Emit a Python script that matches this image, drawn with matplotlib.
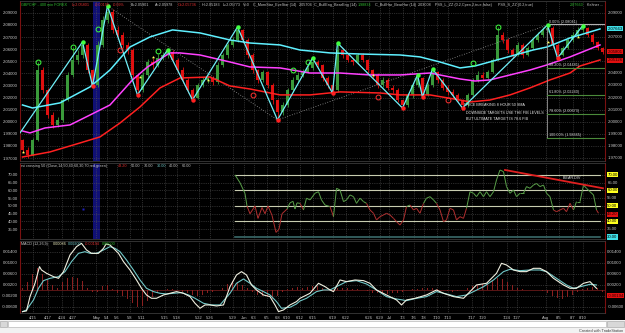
import matplotlib
matplotlib.use('Agg')
import matplotlib.pyplot as plt
from matplotlib.collections import LineCollection
from matplotlib.patches import Rectangle
import numpy as np

plt.rcParams['font.family'] = ['Liberation Sans', 'DejaVu Sans']

# ---- price bars (400 min GBPCHF) ----
closes = [1.9768, 1.9726, 1.9850, 2.0428, 2.0263, 2.0057, 1.9974, 2.0015, 2.0180, 2.0387,
          2.0511, 2.0552, 2.0635, 2.0428, 2.0304, 2.0635, 2.0841, 2.0907, 2.0759, 2.0717,
          2.0635, 2.0593, 2.0387, 2.0263, 2.0387, 2.0494, 2.0470, 2.0527, 2.0552, 2.0577,
          2.0511, 2.0428, 2.0346, 2.0263, 2.0197, 2.0304, 2.0346, 2.0362, 2.0329, 2.0470,
          2.0552, 2.0635, 2.0676, 2.0759, 2.0676, 2.0552, 2.0428, 2.0346, 2.0412, 2.0304,
          2.0180, 2.0081, 2.0139, 2.0263, 2.0346, 2.0387, 2.0412, 2.0445, 2.0494, 2.0470,
          2.0362, 2.0304, 2.0263, 2.0593, 2.0552, 2.0511, 2.0494, 2.0552, 2.0511, 2.0428,
          2.0387, 2.0304, 2.0346, 2.0280, 2.0263, 2.0180, 2.0139, 2.0222, 2.0304, 2.0362,
          2.0222, 2.0304, 2.0412, 2.0346, 2.0280, 2.0247, 2.0222, 2.0180, 2.0139, 2.0222,
          2.0346, 2.0387, 2.0362, 2.0412, 2.0511, 2.0717, 2.0676, 2.0593, 2.0552, 2.0635,
          2.0552, 2.0610, 2.0676, 2.0717, 2.0759, 2.0775, 2.0635, 2.0552, 2.0610, 2.0676,
          2.0717, 2.0759, 2.0775, 2.0717, 2.0660, 2.0610, 2.0577]
highs = [1.9860, 1.9790, 1.9870, 2.0494, 2.0450, 2.0280, 2.0080, 2.0040, 2.0200, 2.0410,
         2.0618, 2.0590, 2.0660, 2.0650, 2.0440, 2.0670, 2.0870, 2.0957, 2.0930, 2.0790,
         2.0740, 2.0660, 2.0610, 2.0400, 2.0410, 2.0520, 2.0530, 2.0560, 2.0580, 2.0593,
         2.0590, 2.0530, 2.0450, 2.0360, 2.0280, 2.0320, 2.0370, 2.0390, 2.0380, 2.0490,
         2.0570, 2.0650, 2.0700, 2.0783, 2.0770, 2.0690, 2.0570, 2.0440, 2.0430, 2.0420,
         2.0320, 2.0190, 2.0160, 2.0280, 2.0370, 2.0410, 2.0440, 2.0470, 2.0530, 2.0510,
         2.0480, 2.0380, 2.0320, 2.0651, 2.0610, 2.0570, 2.0530, 2.0570, 2.0570, 2.0520,
         2.0440, 2.0400, 2.0370, 2.0360, 2.0300, 2.0280, 2.0190, 2.0240, 2.0320, 2.0387,
         2.0370, 2.0320, 2.0436, 2.0420, 2.0360, 2.0300, 2.0270, 2.0240, 2.0190, 2.0240,
         2.0360, 2.0420, 2.0410, 2.0430, 2.0530, 2.0783, 2.0740, 2.0690, 2.0610, 2.0660,
         2.0650, 2.0630, 2.0700, 2.0740, 2.0780, 2.0800, 2.0790, 2.0650, 2.0630, 2.0700,
         2.0740, 2.0780, 2.0792, 2.0785, 2.0730, 2.0670, 2.0620]
lows = [1.9740, 1.9700, 1.9715, 1.9840, 2.0240, 2.0030, 1.9950, 1.9955, 2.0000, 2.0170,
        2.0370, 2.0480, 2.0530, 2.0400, 2.0296, 2.0290, 2.0620, 2.0820, 2.0730, 2.0690,
        2.0610, 2.0560, 2.0350, 2.0222, 2.0250, 2.0370, 2.0440, 2.0450, 2.0510, 2.0530,
        2.0490, 2.0400, 2.0320, 2.0240, 2.0180, 2.0185, 2.0290, 2.0320, 2.0300, 2.0310,
        2.0450, 2.0530, 2.0620, 2.0660, 2.0650, 2.0530, 2.0400, 2.0320, 2.0330, 2.0280,
        2.0150, 2.0015, 2.0060, 2.0120, 2.0250, 2.0330, 2.0370, 2.0400, 2.0430, 2.0450,
        2.0340, 2.0280, 2.0238, 2.0250, 2.0530, 2.0490, 2.0470, 2.0480, 2.0490, 2.0400,
        2.0360, 2.0280, 2.0290, 2.0260, 2.0240, 2.0160, 2.0114, 2.0120, 2.0200, 2.0290,
        2.0205, 2.0210, 2.0290, 2.0320, 2.0260, 2.0220, 2.0200, 2.0160, 2.0114, 2.0120,
        2.0210, 2.0330, 2.0340, 2.0350, 2.0400, 2.0500, 2.0650, 2.0570, 2.0530, 2.0540,
        2.0530, 2.0540, 2.0600, 2.0660, 2.0700, 2.0740, 2.0610, 2.0527, 2.0540, 2.0600,
        2.0660, 2.0700, 2.0740, 2.0700, 2.0640, 2.0590, 2.0560]
first_open = 1.9850

# keltner channel (upper / middle / lower)
kup_x = [0, 2, 7.5, 13.5, 17.5, 21.5, 25.5, 30, 35.5, 41.5, 45.5, 51.5, 55.5, 61.5, 67.5,
         75.5, 79.5, 83.5, 87.5, 90.5, 94.9, 102.1, 104.9, 109.5, 115.5]
kup_y = [2.0139, 2.0114, 2.0156, 2.0288, 2.0428, 2.0618, 2.0701, 2.0759, 2.0734, 2.0676,
         2.0651, 2.0635, 2.0593, 2.0569, 2.0560, 2.0552, 2.0536, 2.0494, 2.0445, 2.0461,
         2.0511, 2.0593, 2.0618, 2.0693, 2.0767]
kmid_x = [0, 1.5, 4.5, 9.5, 13.5, 17.5, 22, 25, 29.5, 31.5, 35.5, 41.5, 45.5, 51.5, 57.5,
          63.5, 69.5, 75.5, 81.5, 87.5, 90.5, 93.5, 97.5, 101.5, 104.9, 109.5, 115.5]
kmid_y = [1.9924, 1.9908, 1.9949, 1.9974, 2.0056, 2.0139, 2.0346, 2.0453, 2.0569, 2.0569,
          2.0552, 2.0494, 2.0453, 2.0445, 2.0403, 2.0403, 2.0387, 2.0387, 2.0403, 2.0354,
          2.0337, 2.0346, 2.0387, 2.0428, 2.0470, 2.0536, 2.0635]
klow_x = [0, 5.5, 11.5, 15.5, 19.5, 23.5, 27.5, 31.5, 37.5, 41.5, 45.5, 51.5, 57.5, 63.5,
          71.5, 75.5, 81.5, 87.5, 89.5, 93.5, 97.5, 101.5, 105.5, 109.5, 111.5, 115.5]
klow_y = [1.9709, 1.9751, 1.9825, 1.9875, 1.9990, 2.0123, 2.0280, 2.0362, 2.0370, 2.0296,
          2.0271, 2.0222, 2.0222, 2.0247, 2.0238, 2.0222, 2.0222, 2.0180, 2.0164, 2.0180,
          2.0222, 2.0280, 2.0346, 2.0403, 2.0461, 2.0511]

# zigzag pivots and signal markers
zz_x = [-0.5, 12, 14, 17, 23, 29, 34, 43, 51, 58, 62, 63, 76, 79, 80, 82, 88, 105, 107, 112]
zz_y = [1.9908, 2.0660, 2.0296, 2.0957, 2.0222, 2.0593, 2.0180, 2.0783, 2.0015, 2.0527,
        2.0238, 2.0651, 2.0114, 2.0387, 2.0205, 2.0436, 2.0114, 2.0800, 2.0527, 2.0792]
piv_hi_x = [12, 17, 29, 43, 58, 63, 79, 82, 105, 112]
piv_hi_y = [2.0660, 2.0957, 2.0593, 2.0783, 2.0527, 2.0651, 2.0387, 2.0436, 2.0800, 2.0792]
piv_lo_x = [14, 23, 34, 51, 62, 76, 80, 88, 107]
piv_lo_y = [2.0296, 2.0222, 2.0180, 2.0015, 2.0238, 2.0114, 2.0205, 2.0114, 2.0527]
ring_g_x = [3, 10, 15, 27, 54, 57, 90, 95]
ring_g_y = [2.0494, 2.0618, 2.0767, 2.0585, 2.0428, 2.0494, 2.0486, 2.0783]
ring_r_x = [19.5, 46, 71, 85]
ring_r_y = [2.0593, 2.0222, 2.0205, 2.0180]
star_x = [0, 23.5, 26, 37, 70, 105, 111]
star_y = [1.9751, 2.0370, 2.0536, 2.0346, 2.0387, 2.0660, 2.0700]
trend_x = [17, 51, 105]
trend_y = [2.0957, 2.0015, 2.0800]

fib_names = ['0.00% (2.08041)', '38.20% (2.04481)', '61.80% (2.02240)',
             '78.60% (2.00673)', '100.00% (1.98665)']
fib_levels = [2.08041, 2.04481, 2.02240, 2.00673, 1.98665]
fib_start = 104.9

# ---- rsi ----
rsi_x = [42.5, 43.5, 44.5, 44.9, 45.5, 46.5, 47.1, 47.9, 48.5, 49.1, 49.9, 50.7, 51.3, 51.9,
         52.9, 53.5, 54.1, 54.5, 54.9, 55.5, 56.2, 56.8, 57.5, 58.5, 59.2, 59.8, 60.5, 61.5,
         62.2, 62.8, 63.5, 64.2, 64.8, 65.5, 66.2, 66.8, 67.5, 68.2, 68.8, 69.5, 70.2, 70.8,
         71.5, 72.2, 72.8, 73.5, 74.2, 74.8, 75.5, 76.2, 76.8, 77.5, 78.2, 78.8, 79.5, 80.2,
         80.8, 81.5, 82.2, 82.8, 83.5, 84.2, 84.8, 85.5, 86.2, 86.8, 87.5, 88.2, 88.8, 89.5,
         90.2, 90.8, 91.5, 92.2, 92.8, 93.5, 94.2, 94.8, 95.5, 96.2, 96.8, 97.5, 98.2, 98.8,
         99.5, 100.2, 100.8, 101.5, 102.2, 102.8, 103.5, 104.2, 104.8, 105.5, 106.2, 106.8,
         107.5, 108.2, 108.8, 109.5, 110.2, 110.8, 111.5, 112.2, 112.8, 113.5, 114.2, 114.8, 115.2]
rsi_v = [70.0, 65.0, 58.0, 50.0, 45.0, 50.0, 42.0, 49.0, 45.0, 50.0, 44.0, 33.0, 35.0, 45.0,
         48.0, 52.0, 53.0, 48.0, 52.0, 51.7, 47.4, 55.0, 53.9, 58.2, 59.2, 53.9, 50.6, 49.6,
         43.1, 61.4, 60.3, 52.8, 53.9, 57.1, 56.0, 51.7, 55.0, 52.8, 51.7, 47.4, 45.3, 41.0,
         43.1, 44.2, 45.3, 44.2, 42.0, 39.9, 37.7, 41.0, 49.6, 50.6, 47.4, 48.5, 45.3, 51.7,
         55.0, 56.0, 53.9, 51.7, 47.4, 39.9, 41.0, 48.5, 47.4, 41.0, 43.1, 42.0, 48.5, 59.2,
         58.2, 56.0, 59.2, 56.0, 59.2, 56.0, 59.2, 66.8, 73.2, 72.1, 62.5, 58.2, 60.3, 56.0,
         58.2, 58.2, 62.5, 61.4, 63.5, 64.5, 62.5, 63.5, 58.2, 56.0, 47.4, 46.3,
         47.4, 48.5, 46.3, 51.7, 47.4, 52.8, 52.8, 63.5, 61.4, 59.2, 57.1, 47.4, 45.3]
rsi_levels = [70, 60, 50, 40]
div_x = [96.5, 116.1]
div_y = [73.2, 61.4]

# ---- macd ----
macd_x = [0, 0.8, 1.5, 2.5, 3.4, 3.8, 4.8, 6.2, 7.2, 8.2, 9.5, 10.8, 11.8, 12.8, 13.8, 15.2,
          16.2, 16.7, 17.5, 18.2, 19.2, 20.2, 21.5, 22.8, 23.8, 24.8, 25.8, 26.8, 28.2, 29.5,
          30.8, 32.2, 33.5, 34.5, 35.5, 36.5, 37.5, 38.8, 40.2, 41.5, 42.8, 43.8, 44.8, 45.8,
          46.8, 48.2, 49.5, 50.5, 51.2, 52.2, 53.5, 54.8, 55.5, 57.5, 59.2, 60.5, 61.5, 62.2,
          63.5, 64.8, 66.5, 68.2, 69.5, 70.8, 72.8, 74.8, 75.8, 76.8, 78.5, 80.8, 82.8, 84.2,
          86.2, 88.2, 89.5, 90.8, 92.8, 94.8, 95.8, 96.8, 98.2, 99.5, 100.8, 102.2, 103.5,
          104.8, 106.2, 108.2, 109.5, 110.8, 112.2, 113.5, 114.8]
macd_v = [-0.00770, -0.00745, -0.00224, 0.00261, 0.00867, 0.00745, 0.00624, 0.00503, 0.00442,
          0.00685, 0.01291, 0.01594, 0.01715, 0.01473, 0.01351, 0.01351, 0.01533, 0.01691,
          0.01654, 0.01533, 0.01351, 0.01048, 0.00745, 0.00382, 0.00079, -0.00164, -0.00285,
          -0.00285, -0.00164, -0.00103, -0.00042, -0.00103, -0.00224, -0.00467, -0.00648,
          -0.00527, -0.00527, -0.00564, -0.00527, 0.00139, 0.00564, 0.00685, 0.00564, 0.00200,
          0.00018, -0.00164, -0.00224, -0.00527, -0.00770, -0.00709, -0.00527, -0.00406,
          -0.00285, -0.00103, 0.00261, 0.00139, 0.00018, -0.00042, 0.00382, 0.00321, 0.00382,
          0.00358, 0.00261, 0.00018, -0.00164, -0.00345, -0.00527, -0.00345, -0.00285,
          -0.00164, 0.00018, -0.00103, -0.00224, -0.00285, -0.00042, 0.00200, 0.00261, 0.00624,
          0.00988, 0.00927, 0.00745, 0.00685, 0.00685, 0.00806, 0.00806, 0.00685, 0.00442,
          0.00200, 0.00079, 0.00079, 0.00261, 0.00321, 0.00079]
sig_x = [0, 0.8, 2.2, 3.2, 4.2, 5.5, 7.2, 8.5, 9.8, 11.2, 12.5, 13.5, 14.8, 16.2, 17.5, 18.5,
         19.5, 20.8, 22.2, 23.5, 24.8, 26.2, 27.5, 28.8, 30.2, 31.8, 33.2, 34.5, 36.2, 37.8,
         39.5, 41.5, 42.8, 44.2, 45.5, 46.8, 48.2, 49.5, 50.8, 51.8, 53.5, 54.8, 55.5, 56.8,
         58.8, 60.2, 61.5, 62.8, 64.8, 66.8, 68.8, 70.8, 72.8, 74.8, 76.8, 78.8, 80.8, 82.8,
         84.8, 86.8, 88.8, 90.2, 92.2, 94.2, 96.2, 97.5, 99.5, 101.5, 103.5, 104.8, 106.8,
         108.8, 110.2, 112.2, 113.5, 114.8]
sig_v = [-0.00770, -0.00709, -0.00345, 0.00079, 0.00358, 0.00442, 0.00503, 0.00685, 0.01048,
         0.01351, 0.01412, 0.01351, 0.01351, 0.01473, 0.01594, 0.01533, 0.01412, 0.01109,
         0.00745, 0.00382, 0.00079, -0.00042, -0.00103, -0.00127, -0.00103, -0.00079,
         -0.00164, -0.00285, -0.00467, -0.00527, -0.00527, -0.00103, 0.00261, 0.00418,
         0.00261, 0.00079, -0.00042, -0.00164, -0.00406, -0.00648, -0.00612, -0.00491,
         -0.00382, -0.00285, -0.00042, 0.00018, 0.00018, 0.00139, 0.00321, 0.00358, 0.00236,
         0.00018, -0.00224, -0.00309, -0.00370, -0.00285, -0.00224, -0.00042, -0.00127,
         -0.00224, -0.00164, -0.00042, 0.00139, 0.00382, 0.00685, 0.00770, 0.00721, 0.00745,
         0.00745, 0.00685, 0.00442, 0.00200, 0.00079, 0.00164, 0.00224, 0.00200]
hist_v = [0.0010, 0.0030, 0.0060, 0.0080, 0.0060, 0.0040, 0.0020, 0.0010, 0.0030, 0.0045,
          0.0050, 0.0045, 0.0035, 0.0010, -0.0005, -0.0005, 0.0015, 0.0020, 0.0005, -0.0010,
          -0.0020, -0.0030, -0.0045, -0.0060, -0.0055, -0.0040, -0.0025, -0.0010, 0.0003, 0.0005,
          0.0005, 0.0003, -0.0005, -0.0010, -0.0015, -0.0020, -0.0015, -0.0008, -0.0005, 0.0003,
          0.0010, 0.0025, 0.0035, 0.0030, 0.0020, 0.0010, -0.0005, -0.0015, -0.0020, -0.0025,
          -0.0030, -0.0020, -0.0005, 0.0005, 0.0010, 0.0012, 0.0010, 0.0012, 0.0015, 0.0015,
          0.0008, 0.0003, -0.0002, 0.0008, 0.0010, 0.0008, 0.0005, 0.0005, 0.0003, -0.0003,
          -0.0008, -0.0010, -0.0012, -0.0012, -0.0010, -0.0008, -0.0006, 0.0003, 0.0005, 0.0006,
          0.0008, 0.0008, 0.0008, 0.0005, 0.0003, -0.0003, -0.0005, -0.0003, 0.0003, 0.0008,
          0.0015, 0.0020, 0.0025, 0.0030, 0.0035, 0.0045, 0.0040, 0.0030, 0.0020, 0.0010,
          0.0005, 0.0003, 0.0003, 0.0002, -0.0003, -0.0010, -0.0020, -0.0028, -0.0030, -0.0025,
          -0.0015, -0.0005, 0.0005, 0.0010, 0.0012, 0.0008, -0.0005]

# date axis
date_pos = [2.1, 5.1, 7.9, 10.1, 14.7, 16.9, 18.9, 21.5, 23.9, 28.5, 30.9, 35.3, 37.5, 42.1,
            44.3, 46.3, 48.9, 51.1, 52.9, 55.5, 58.1, 62.1, 64.7, 69.3, 71.5, 73.3, 76.1, 78.3,
            80.3, 82.9, 85.1, 89.9, 92.1, 96.9, 98.9, 104.7, 107.3, 110.1, 112.1]
date_lbl = ['4/15', '4/17', '4/24', '4/27', 'May', '5/4', '5/6', '5/8', '5/11', '5/15', '5/18',
            '5/22', '5/26', '5/29', 'Jun', '6/3', '6/5', '6/8', '6/10', '6/12', '6/15', '6/19',
            '6/22', '6/26', '6/29', 'Jul', '7/3', '7/6', '7/8', '7/10', '7/13', '7/17', '7/20',
            '7/24', '7/27', 'Aug', '8/5', '8/7', '8/10']

W, H = 625, 333
fig = plt.figure(figsize=(W / 100, H / 100), dpi=100, facecolor='black')


def px_axes(x0, y0, x1, y1):
    return fig.add_axes([x0 / W, 1 - y1 / H, (x1 - x0) / W, (y1 - y0) / H])


ax_p = px_axes(20, 1, 605, 161)
ax_r = px_axes(20, 163, 605, 239)
ax_m = px_axes(20, 241, 605, 313)
TXT = '#c8c8c8'
FS = 3.1
HFS = 2.7

for ax in (ax_p, ax_r, ax_m):
    ax.set_facecolor('black')
    ax.set_xlim(-0.5, 116.5)
    ax.set_xticks(date_pos)
    ax.grid(True, color='#555555', ls=':', lw=0.5)
    ax.set_axisbelow(True)
    ax.tick_params(length=0, labelsize=FS, colors=TXT, pad=1.5,
                   labelleft=True, labelright=False, labelbottom=False)
    for s in ('left', 'right'):
        ax.spines[s].set_color('#7a1010')
        ax.spines[s].set_linewidth(0.8)
    for s in ('top', 'bottom'):
        ax.spines[s].set_color('#3a3a3a')
        ax.spines[s].set_linewidth(0.6)

ax_m.tick_params(axis='x', labelbottom=True, pad=2, labelsize=2.9)
ax_m.set_xticklabels(date_lbl)


def tag(ax, y, txt, fc, tc='black'):
    ax.text(1.004, y, txt, transform=ax.get_yaxis_transform(), fontsize=FS, color=tc,
            va='center', ha='left', clip_on=False, zorder=6,
            bbox=dict(boxstyle='square,pad=0.12', fc=fc, ec='none'))


def right_labels(ax, vals, fmt, skip):
    for v in vals:
        if any(abs(v - s) < 1e-9 for s in skip):
            continue
        ax.text(1.004, v, fmt % v, transform=ax.get_yaxis_transform(), fontsize=FS,
                color=TXT, va='center', ha='left', clip_on=False)


# ---------------- price panel ----------------
x = np.arange(len(closes))
c = np.array(closes)
o = np.array([first_open] + closes[:-1])
up = c >= o
cols = np.where(up, '#3a9a3a', '#e01010')
ax_p.axvspan(14.1, 15.5, color='#14148a', alpha=0.85, zorder=0.5, lw=0)
ax_p.vlines(x, lows, highs, colors=cols, lw=0.6, zorder=2)
ax_p.bar(x, np.maximum(np.abs(c - o), 0.0003), bottom=np.minimum(o, c), width=0.6,
         color=cols, lw=0, zorder=2)

ax_p.plot(trend_x, trend_y, color='#9a9a9a', ls=(0, (1, 2)), lw=0.6, zorder=2.5)
ax_p.plot(kup_x, kup_y, color='#5ff0ff', lw=1.1, zorder=3)
ax_p.plot(kmid_x, kmid_y, color='#ff40ff', lw=1.1, zorder=3)
ax_p.plot(klow_x, klow_y, color='#ff2020', lw=1.1, zorder=3)
ax_p.plot(zz_x, zz_y, color='#70f0f8', lw=0.9, zorder=4)
ax_p.plot(piv_hi_x, piv_hi_y, 'o', color='#40ff40', ms=3.2, mec='none', zorder=5)
ax_p.plot(piv_lo_x, piv_lo_y, 'o', color='#ff2020', ms=3.2, mec='none', zorder=5)
ax_p.plot(ring_g_x, ring_g_y, 'o', mfc='none', mec='#40ff40', mew=0.7, ms=3.5, zorder=5)
ax_p.plot(ring_r_x, ring_r_y, 'o', mfc='none', mec='#ff3030', mew=0.7, ms=3.5, zorder=5)
ax_p.plot(star_x, star_y, '*', color='#ffff60', ms=2.5, mec='none', zorder=5)

# fibonacci retracement
ax_p.plot([fib_start, fib_start], [fib_levels[0], fib_levels[-1]], color='#9a9a9a', lw=0.6,
          zorder=3)
for k, (lv, nm) in enumerate(zip(fib_levels, fib_names)):
    lc = '#b0b0b0' if k == 0 else '#4a8a3a'
    ax_p.plot([fib_start, 116.5], [lv, lv], color=lc, lw=0.8, zorder=3)
    ax_p.text(fib_start + 0.3, lv + 0.0006, nm, fontsize=HFS, color='#d8d8d8',
              va='bottom', ha='left', zorder=6)

ax_p.text(88.3, 2.0141, 'PRICE BREAKING 8 HOUR 50 SMA', fontsize=HFS, color='#e8e8e8',
          va='center')
ax_p.text(88.6, 2.0075, 'DOWNSIDE TARGETS USE THE FIB LEVELS', fontsize=HFS, color='#e8e8e8',
          va='center')
ax_p.text(88.6, 2.0026, 'BUT ULTIMATE TARGET IS 78.6 FIB', fontsize=HFS, color='#e8e8e8',
          va='center')

price_ticks = list(np.round(np.arange(1.97, 2.0951, 0.01), 2))
ax_p.set_ylim(1.9676, 2.0998)
ax_p.set_yticks(price_ticks)
ax_p.yaxis.set_major_formatter(matplotlib.ticker.FormatStrFormatter('%.5f'))
right_labels(ax_p, price_ticks, '%.5f', [2.08, 2.06, 2.05])
tag(ax_p, 2.0767, '2.07663', '#40e0e8')
tag(ax_p, 2.0580, '2.05801', '#e01010', '#2a0000')
tag(ax_p, 2.0508, '2.05126', '#e01010', '#2a0000')

# ---------------- rsi panel ----------------
ax_r.axvspan(14.1, 15.5, color='#14148a', alpha=0.85, zorder=0.5, lw=0)
ax_r.plot([12.1], [48], 's', color='#2020c0', ms=1.5, mec='none')
for lv in rsi_levels:
    ax_r.plot([42.5, 115.5], [lv, lv], color='#c8ccb0', lw=0.8, zorder=2)
ax_r.plot([42.5, 115.5], [30, 30], color='#3a6a6a', lw=1.2, zorder=2)
segs = [[(rsi_x[k], rsi_v[k]), (rsi_x[k + 1], rsi_v[k + 1])] for k in range(len(rsi_x) - 1)]
seg_cols = ['#5aa04a' if (rsi_v[k] + rsi_v[k + 1]) / 2 >= 50 else '#b03030'
            for k in range(len(rsi_x) - 1)]
ax_r.add_collection(LineCollection(segs, colors=seg_cols, lw=0.7, zorder=3))
ax_r.plot(div_x, div_y, color='#e02020', lw=1.3, zorder=4, clip_on=False)
ax_r.text(108.0, 68.2, 'BEAR DIV', fontsize=HFS, color='#e8e8e8', va='center')
rsi_ticks = [35, 40, 45, 50, 55, 60, 65, 70]
ax_r.set_ylim(28.7, 77.7)
ax_r.set_yticks(rsi_ticks)
ax_r.yaxis.set_major_formatter(matplotlib.ticker.FormatStrFormatter('%.2f'))
right_labels(ax_r, rsi_ticks, '%.2f', [40, 45, 50, 60, 70])
for lv in rsi_levels:
    tag(ax_r, lv, '%.2f' % lv, '#ffff20')
tag(ax_r, 44.6, '43.20', '#e01010', '#2a0000')
tag(ax_r, 30, '30.00', '#40e0e8')

# ---------------- macd panel ----------------
ax_m.bar(x, hist_v, width=0.35, color='#8a2020', lw=0, zorder=2)
ax_m.axhline(0, color='#6a1a1a', lw=0.6, zorder=1.5)
ax_m.plot(sig_x, sig_v, color='#70c8c8', lw=0.8, zorder=3)
ax_m.plot(macd_x, macd_v, color='#f0f0e0', lw=0.8, zorder=4)
macd_ticks = [-0.006, -0.002, 0.002, 0.006, 0.010, 0.014]
ax_m.set_ylim(-0.0082, 0.0180)
ax_m.set_yticks(macd_ticks)
ax_m.yaxis.set_major_formatter(matplotlib.ticker.FormatStrFormatter('%.5f'))
right_labels(ax_m, macd_ticks, '%.5f', [-0.002])
tag(ax_m, -0.00194, '-0.00194', '#e01010', '#2a0000')

# ---------------- header texts ----------------
hdr_p = [(21, 'GBPCHF - 400 min FOREX', '#30c030'), (72, 'L=2.05801', '#e03030'),
         (95, '-0.00199', '#e03030'), (113, '-0.09%', '#e03030'), (131, 'B=2.05901', TXT),
         (155, 'A=2.05978', TXT), (178, 'O=2.05736', '#e03030'), (202, 'H=2.05183', TXT),
         (223, 'L=2.05773', TXT), (243, 'V=0', TXT), (253, 'C_MornStar_EveStar (14)', TXT),
         (299, '2.05704', TXT), (314, 'C_BullEng_BearEng (14)', TXT), (358, '1.98834', '#30c030'),
         (375, 'C_BullHar_BearHar (14)', TXT), (418, '2.03008', TXT),
         (435, 'PSS_L_ZZ (0.2,Cpen,2,true,false)', TXT), (498, 'PSS_S_ZZ (0.2,true)', TXT),
         (570, '2.07663', '#30c030'), (587, 'Keltner ...', TXT)]
for xp, t, col in hdr_p:
    fig.text(xp / W, 1 - 5 / H, t, fontsize=HFS, color=col, va='center', ha='left')

hdr_r = [(21, 'rsi crossing 50 (Close,14,50,40,60,30,70,red,green)', TXT),
         (118, '43.20', '#e03030'), (131, '50.00', TXT), (144, '70.00', TXT),
         (157, '30.00', '#70c8c8'), (169, '40.00', TXT), (182, '60.00', TXT)]
for xp, t, col in hdr_r:
    fig.text(xp / W, 1 - 166 / H, t, fontsize=HFS, color=col, va='center', ha='left')

hdr_m = [(21, 'MACD (12,26,9)', TXT), (53, '0.00086', '#f0f0c0'), (68, '0.00200', '#70c8c8'),
         (85, '-0.00194', '#e03030'), (102, '0.00000', '#30c030')]
for xp, t, col in hdr_m:
    fig.text(xp / W, 1 - 244 / H, t, fontsize=HFS, color=col, va='center', ha='left')

# bottom scroll strip
fig.patches.append(Rectangle((0, 0), 1, 13 / H, transform=fig.transFigure,
                             fc='#f2f2f2', ec='none'))
fig.patches.append(Rectangle((8 / W, 6.5 / H), 598 / W, 5.5 / H, transform=fig.transFigure,
                             fc='white', ec='#a8a8a8', lw=0.4))
fig.patches.append(Rectangle((0, 6.5 / H), 7 / W, 5.5 / H, transform=fig.transFigure,
                             fc='#d8d8d8', ec='#a0a0a0', lw=0.4))
fig.patches.append(Rectangle((607 / W, 6.5 / H), 17 / W, 5.5 / H, transform=fig.transFigure,
                             fc='#d8d8d8', ec='#a0a0a0', lw=0.4))
fig.text(623 / W, 2.5 / H, 'Created with TradeStation', fontsize=2.8, color='#404040',
         ha='right', va='center')

fig.savefig('out.png', dpi=100, facecolor='black')
